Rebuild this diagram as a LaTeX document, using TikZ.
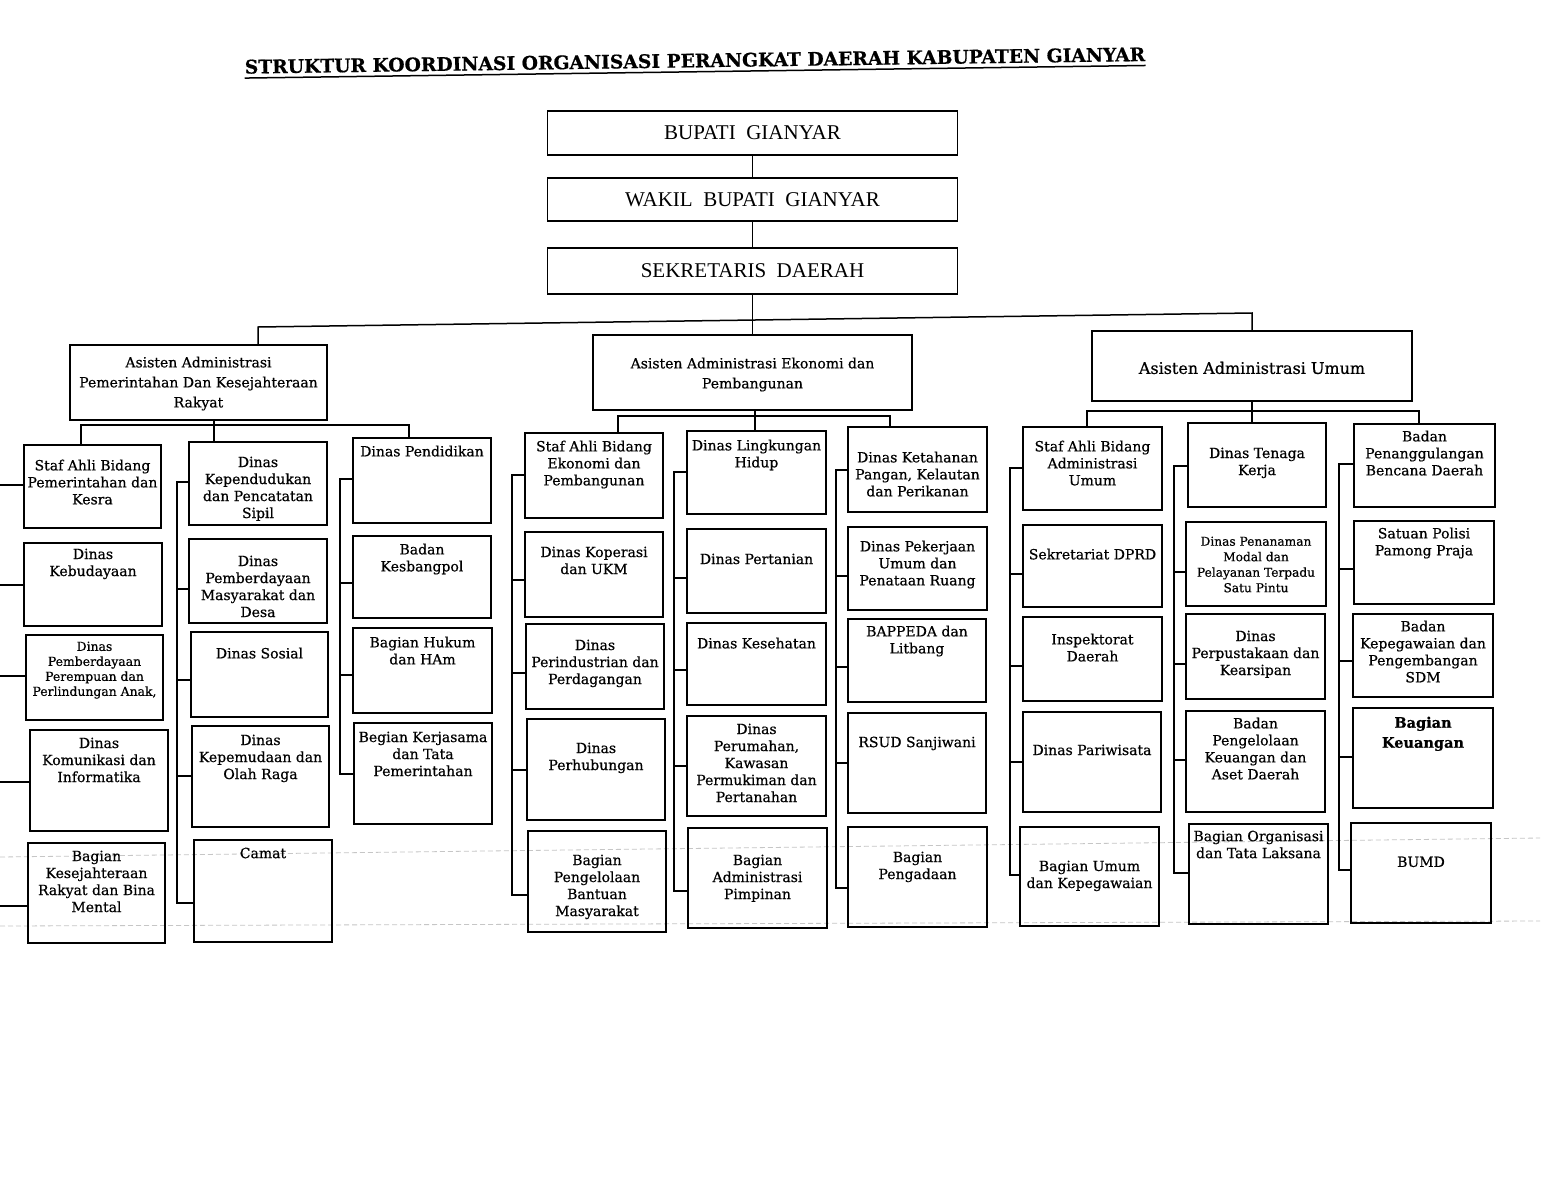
\documentclass[tikz,border=0pt]{standalone}
\usepackage{fontspec}
\setmainfont{DejaVu Serif}[RawFeature={embolden=0.6}]
\newfontfamily\tmsfont{Liberation Serif}
\usetikzlibrary{calc}

\tikzset{
  unitbox/.style={draw, line width=1.8pt, inner sep=0pt, outer sep=0pt},
  topbox/.style={draw, line width=1.8pt, inner sep=0pt, outer sep=0pt, minimum width=410,
                 font=\tmsfont\fontsize{21}{24}\selectfont},
  boxtext/.style={anchor=north, align=center, inner sep=0pt, font=\fontsize{14}{17}\selectfont},
  asst/.style={font=\fontsize{14}{20}\selectfont},
  big/.style={font=\fontsize{16}{20}\selectfont},
  small/.style={font=\fontsize{12.4}{15}\selectfont},
  smalltwo/.style={font=\fontsize{12.2}{15.5}\selectfont},
  keu/.style={font=\bfseries\fontsize{14.5}{20}\selectfont},
  link/.style={line width=1.5pt, line cap=rect},
  scanline/.style={draw=gray!45, line width=0.8pt, dash pattern=on 5pt off 3pt},
  titlestyle/.style={font=\bfseries\fontsize{18.7}{22}\selectfont, inner xsep=0pt, inner ysep=4pt}
}

% #1 text style, #2 name, #3 x1, #4 y1, #5 x2, #6 y2, #7 first line centre, #8 text
\newcommand\obox[8][]{%
  \node[unitbox, minimum width={#5-#3}, minimum height={#6-#4}] (#2) at ({(#3+#5)/2},{(#4+#6)/2}) {};
  \node[boxtext, #1] (#2t) at ({(#3+#5)/2},{#7-5.5}) {#8};
}
\newcommand\colline[3]{\draw[link] (#1 |- 0,#2) -- (#1 |- 0,#3);}
\newcommand\stub[3]{\draw[link] (#2 |- 0,#3) -- (#1.west |- 0,#3);}

\begin{document}
\begin{tikzpicture}[x=1pt,y=-1pt]
\useasboundingbox (0,0) rectangle (1553,1200);
\fill[white] (0,0) rectangle (1553,1200);

% scan artefact lines
\coordinate (s1a) at (0,857); \coordinate (s1b) at (1540,838);
\coordinate (s2a) at (0,926); \coordinate (s2b) at (1540,921);
\draw[scanline] (s1a) -- (s1b);
\draw[scanline] (s2a) -- (s2b);

% title
\node[titlestyle, rotate=0.8] (title) at (695,60.5) {STRUKTUR KOORDINASI ORGANISASI PERANGKAT DAERAH KABUPATEN GIANYAR};
\draw[line width=1.5pt] (title.south west) -- (title.south east);

% top chain
\node[topbox, minimum height=44] (bupati) at (752.5,133) {BUPATI\hspace{.5em}GIANYAR};
\node[topbox, minimum height=43] (wakil) at (752.5,199.5) {WAKIL\hspace{.5em}BUPATI\hspace{.5em}GIANYAR};
\node[topbox, minimum height=46] (sekda) at (752.5,271) {SEKRETARIS\hspace{.5em}DAERAH};
\draw[link] (bupati.south) -- (wakil.north);
\draw[link] (wakil.south) -- (sekda.north);

% assistants
\obox[asst]{asA}{70}{345}{327}{420}{362}{Asisten Administrasi\\Pemerintahan Dan Kesejahteraan\\Rakyat}
\obox[asst]{asB}{593}{335}{912}{410}{363}{Asisten Administrasi Ekonomi dan\\Pembangunan}
\obox[big]{asC}{1092}{331}{1412}{401}{367}{Asisten Administrasi Umum}

\coordinate (busL) at (258,327);
\coordinate (busR) at (1252,313);
\coordinate (busM) at (752.5,320);
\draw[link] (asA.north -| busL) -- (busL) -- (busR) -- (asC.north -| busR);
\draw[link] (sekda.south) -- (busM) -- (asB.north);

% ---------- group A ----------
\obox{A1}{24}{445}{161}{528}{465}{Staf Ahli Bidang\\Pemerintahan dan\\Kesra}
\obox{A2}{24}{543}{162}{626}{554}{Dinas\\Kebudayaan}
\obox[small]{A3}{26}{635}{163}{720}{647}{Dinas\\Pemberdayaan\\Perempuan dan\\Perlindungan Anak,}
\obox{A4}{30}{730}{168}{831}{743}{Dinas\\Komunikasi dan\\Informatika}
\obox{A5}{28}{843}{165}{943}{856}{Bagian\\Kesejahteraan\\Rakyat dan Bina\\Mental}
\obox{A6}{189}{442}{327}{525}{462}{Dinas\\Kependudukan\\dan Pencatatan\\Sipil}
\obox{A7}{189}{539}{327}{623}{561}{Dinas\\Pemberdayaan\\Masyarakat dan\\Desa}
\obox{A8}{191}{632}{328}{717}{653}{Dinas Sosial}
\obox{A9}{192}{726}{329}{827}{740}{Dinas\\Kepemudaan dan\\Olah Raga}
\obox{A10}{194}{840}{332}{942}{853}{Camat}
\obox{A11}{353}{438}{491}{523}{451}{Dinas Pendidikan}
\obox{A12}{353}{536}{491}{618}{549}{Badan\\Kesbangpol}
\obox{A13}{353}{628}{492}{713}{642}{Bagian Hukum\\dan HAm}
\obox{A14}{354}{723}{492}{824}{737}{Begian Kerjasama\\dan Tata\\Pemerintahan}

\coordinate (xA1) at (81,0); \coordinate (xA2) at (214,0); \coordinate (xA3) at (409,0);
\coordinate (busA) at (0,425);
\draw[link] (asA.south -| xA2) -- (A6.north -| xA2);
\draw[link] (A1.north -| xA1) -- (busA -| xA1) -- (busA -| xA3) -- (A11.north -| xA3);

\coordinate (vA1) at (0,0); \coordinate (vA2) at (177,0); \coordinate (vA3) at (340,0);
\stub{A1}{vA1}{485} \stub{A2}{vA1}{585} \stub{A3}{vA1}{676} \stub{A4}{vA1}{782} \stub{A5}{vA1}{906}
\colline{vA2}{482}{903}
\stub{A6}{vA2}{482} \stub{A7}{vA2}{589} \stub{A8}{vA2}{680} \stub{A9}{vA2}{776} \stub{A10}{vA2}{903}
\colline{vA3}{479}{774}
\stub{A11}{vA3}{479} \stub{A12}{vA3}{583} \stub{A13}{vA3}{675} \stub{A14}{vA3}{774}

% ---------- group B ----------
\obox{B1}{525}{433}{663}{518}{446}{Staf Ahli Bidang\\Ekonomi dan\\Pembangunan}
\obox{B2}{525}{532}{663}{617}{552}{Dinas Koperasi\\dan UKM}
\obox{B3}{526}{624}{664}{709}{645}{Dinas\\Perindustrian dan\\Perdagangan}
\obox{B4}{527}{719}{665}{820}{748}{Dinas\\Perhubungan}
\obox{B5}{528}{831}{666}{932}{860}{Bagian\\Pengelolaan\\Bantuan\\Masyarakat}
\obox{B6}{687}{431}{826}{514}{445}{Dinas Lingkungan\\Hidup}
\obox{B7}{687}{529}{826}{613}{559}{Dinas Pertanian}
\obox{B8}{687}{623}{826}{705}{643}{Dinas Kesehatan}
\obox{B9}{687}{716}{826}{816}{729}{Dinas\\Perumahan,\\Kawasan\\Permukiman dan\\Pertanahan}
\obox{B10}{688}{828}{827}{928}{860}{Bagian\\Administrasi\\Pimpinan}
\obox{B11}{848}{427}{987}{512}{457}{Dinas Ketahanan\\Pangan, Kelautan\\dan Perikanan}
\obox{B12}{848}{527}{987}{610}{546}{Dinas Pekerjaan\\Umum dan\\Penataan Ruang}
\obox{B13}{848}{619}{986}{702}{631}{BAPPEDA dan\\Litbang}
\obox{B14}{848}{713}{986}{813}{742}{RSUD Sanjiwani}
\obox{B15}{848}{827}{987}{927}{857}{Bagian\\Pengadaan}

\coordinate (xB1) at (618,0); \coordinate (xB2) at (755,0); \coordinate (xB3) at (890,0);
\coordinate (busB) at (0,416);
\draw[link] (asB.south -| xB2) -- (B6.north -| xB2);
\draw[link] (B1.north -| xB1) -- (busB -| xB1) -- (busB -| xB3) -- (B11.north -| xB3);

\coordinate (vB1) at (512,0); \coordinate (vB2) at (674,0); \coordinate (vB3) at (836,0);
\colline{vB1}{475}{895}
\stub{B1}{vB1}{475} \stub{B2}{vB1}{580} \stub{B3}{vB1}{673} \stub{B4}{vB1}{770} \stub{B5}{vB1}{895}
\colline{vB2}{472}{891}
\stub{B6}{vB2}{472} \stub{B7}{vB2}{578} \stub{B8}{vB2}{670} \stub{B9}{vB2}{766} \stub{B10}{vB2}{891}
\colline{vB3}{470}{888}
\stub{B11}{vB3}{470} \stub{B12}{vB3}{576} \stub{B13}{vB3}{667} \stub{B14}{vB3}{763} \stub{B15}{vB3}{888}

% ---------- group C ----------
\obox{C1}{1023}{427}{1162}{510}{446}{Staf Ahli Bidang\\Administrasi\\Umum}
\obox{C2}{1023}{525}{1162}{607}{554}{Sekretariat DPRD}
\obox{C3}{1023}{617}{1162}{701}{639}{Inspektorat\\Daerah}
\obox{C4}{1023}{712}{1161}{812}{750}{Dinas Pariwisata}
\obox{C5}{1020}{827}{1159}{926}{866}{Bagian Umum\\dan Kepegawaian}
\obox{C6}{1188}{423}{1326}{507}{453}{Dinas Tenaga\\Kerja}
\obox[smalltwo]{C7}{1186}{522}{1326}{606}{542}{Dinas Penanaman\\Modal dan\\Pelayanan Terpadu\\Satu Pintu}
\obox{C8}{1186}{614}{1325}{699}{636}{Dinas\\Perpustakaan dan\\Kearsipan}
\obox{C9}{1186}{711}{1325}{812}{723}{Badan\\Pengelolaan\\Keuangan dan\\Aset Daerah}
\obox{C10}{1189}{824}{1328}{924}{836}{Bagian Organisasi\\dan Tata Laksana}
\obox{C11}{1354}{424}{1495}{507}{436}{Badan\\Penanggulangan\\Bencana Daerah}
\obox{C12}{1354}{521}{1494}{604}{533}{Satuan Polisi\\Pamong Praja}
\obox{C13}{1353}{614}{1493}{697}{626}{Badan\\Kepegawaian dan\\Pengembangan\\SDM}
\obox[keu]{C14}{1353}{708}{1493}{808}{722}{Bagian\\Keuangan}
\obox{C15}{1351}{823}{1491}{923}{862}{BUMD}

\coordinate (xC1) at (1087,0); \coordinate (xC2) at (1252,0); \coordinate (xC3) at (1419,0);
\coordinate (busC) at (0,411);
\draw[link] (asC.south -| xC2) -- (C6.north -| xC2);
\draw[link] (C1.north -| xC1) -- (busC -| xC1) -- (busC -| xC3) -- (C11.north -| xC3);

\coordinate (vC1) at (1010,0); \coordinate (vC2) at (1174,0); \coordinate (vC3) at (1339,0);
\colline{vC1}{468}{875}
\stub{C1}{vC1}{468} \stub{C2}{vC1}{574} \stub{C3}{vC1}{666} \stub{C4}{vC1}{762} \stub{C5}{vC1}{875}
\colline{vC2}{466}{873}
\stub{C6}{vC2}{466} \stub{C7}{vC2}{572} \stub{C8}{vC2}{664} \stub{C9}{vC2}{760} \stub{C10}{vC2}{873}
\colline{vC3}{464}{870}
\stub{C11}{vC3}{464} \stub{C12}{vC3}{569} \stub{C13}{vC3}{661} \stub{C14}{vC3}{757} \stub{C15}{vC3}{870}

\end{tikzpicture}
\end{document}
